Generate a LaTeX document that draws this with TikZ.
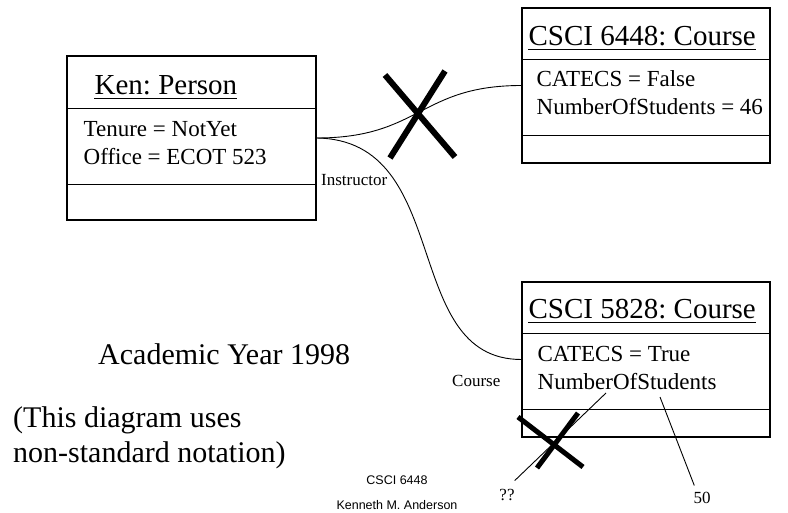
\documentclass[tikz,border=0pt]{standalone}
\usepackage{fontspec}
\setmainfont{Liberation Serif}
\setsansfont{Liberation Sans}
\usetikzlibrary{positioning}
\frenchspacing

\begin{document}
\begin{tikzpicture}[x=1pt,y=-1pt,
		objbox/.style={draw,line width=1.1pt,minimum width=248pt,minimum height=155pt,inner sep=0pt},
		divider/.style={line width=1.6pt},
		objname/.style={font=\fontsize{29}{34}\selectfont,inner sep=0pt,anchor=base west},
		attr/.style={font=\fontsize{23}{28}\selectfont,inner sep=0pt,anchor=base west},
		rolename/.style={font=\fontsize{17}{20}\selectfont,inner sep=0pt,anchor=base west},
		note/.style={font=\fontsize{30}{34}\selectfont,inner sep=0pt,anchor=base west},
		footer/.style={font=\sffamily\fontsize{12.5}{15}\selectfont,inner sep=0pt},
		strike/.style={line width=6pt},
		link/.style={line width=0.9pt}]
		\useasboundingbox (0,0) rectangle (788,513);
		% object boxes
		\node[objbox,minimum width=249pt,minimum height=164pt] (ken) at (191.5,138) {};
		\node[objbox] (c6448) at (646,85.5) {};
		\node[objbox] (c5828) at (646,359.5) {};
		\draw[line width=1pt] ([yshift=-53pt]ken.north west) -- ([yshift=-53pt]ken.north east);
		\draw[divider] ([yshift=36pt]ken.south west) -- ([yshift=36pt]ken.south east);
		\foreach \obj in {c6448,c5828}
		{
			\draw[divider] ([yshift=-52pt]\obj.north west) -- ([yshift=-52pt]\obj.north east);
			\draw[divider] ([yshift=28pt]\obj.south west) -- ([yshift=28pt]\obj.south east);
		}
		% names and attributes
		\node[objname] (kenname) at ([shift={(28pt,-39pt)}]ken.north west) {Ken: Person};
		\node[attr] (tenure) at ([shift={(17pt,-81pt)}]ken.north west) {Tenure = NotYet};
		\node[attr] (office) at ([shift={(17pt,-109pt)}]ken.north west) {Office = ECOT 523};
		\node[objname] (name6448) at ([shift={(7pt,-38pt)}]c6448.north west) {CSCI 6448: Course};
		\node[attr] (catecs6448) at ([shift={(15pt,-79pt)}]c6448.north west) {CATECS = False};
		\node[attr] (num6448) at ([shift={(15pt,-107pt)}]c6448.north west) {NumberOfStudents = 46};
		\node[objname] (name5828) at ([shift={(7pt,-37pt)}]c5828.north west) {CSCI 5828: Course};
		\node[attr] (catecs5828) at ([shift={(16pt,-80pt)}]c5828.north west) {CATECS = True};
		\node[attr] (num5828) at ([shift={(16pt,-108pt)}]c5828.north west) {NumberOfStudents};
		\foreach \nm in {kenname,name6448,name5828}
		{
			\draw[line width=1.5pt] ([yshift=-4pt]\nm.base west) -- ([yshift=-4pt]\nm.base east);
		}
		% links
		\draw[link] (ken.east) .. controls +(104,0) and +(-102,0) .. (c6448.west);
		\draw[link] (ken.east) .. controls +(138,2) and +(-122,0) .. (c5828.west);
		\node[rolename] (instructor) at (321,186) {Instructor};
		\node[rolename] (course) at (452,387) {Course};
		% values
		\node[rolename,anchor=base] (qq) at (507,500) {??};
		\node[rolename,anchor=base] (fifty) at (702,503) {50};
		\coordinate (numleft) at (606,393);
		\coordinate (numright) at (660,397);
		\draw[link] (numleft) -- ([yshift=8pt]qq.north east);
		\draw[link] (numright) -- ([shift={(1pt,6pt)}]fifty.north west);
		% crossed out
		\draw[strike] (385,75) -- (455,157);
		\draw[strike] (445,71) -- (390,158);
		\draw[strike,line width=5pt] (518,417) -- (583,467);
		\draw[strike,line width=5pt] (578,413) -- (537,468);
		% notes
		\node[note] (year) at (98,364) {Academic Year 1998};
		\node[note] (remark1) at (13,428) {(This diagram uses};
		\node[note] (remark2) at (13,462) {non-standard notation)};
		\node[footer] (lecture) at (397,480) {CSCI 6448};
		\node[footer] (author) at (397,505) {Kenneth M. Anderson};
	\end{tikzpicture}
\end{document}
